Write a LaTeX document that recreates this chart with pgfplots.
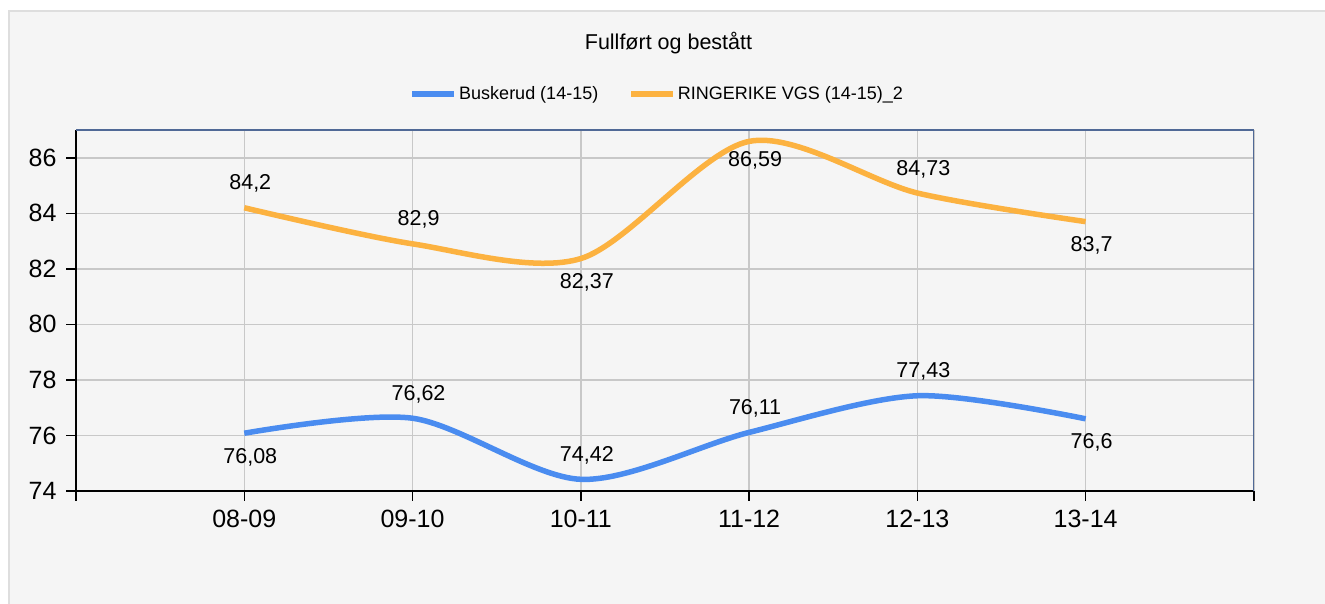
\documentclass[border=0pt]{standalone}
\usepackage{fontspec}
\setmainfont{Liberation Sans}
\usepackage{pgfplots}
\pgfplotsset{compat=1.18}
\definecolor{bluel}{RGB}{74,140,240}
\definecolor{orangel}{RGB}{252,178,64}
\definecolor{gridc}{RGB}{200,200,200}
\definecolor{framec}{RGB}{80,105,150}
\definecolor{bgc}{RGB}{245,245,245}
\definecolor{bordc}{RGB}{222,222,222}
\begin{document}
\begin{tikzpicture}[x=1pt,y=1pt]
\useasboundingbox (0,0) rectangle (1325,604);
\fill[white] (0,0) rectangle (1325,604);
\fill[bgc] (8,0) rectangle (1325,594);
\draw[bordc, line width=2.5pt] (9,0) -- (9,593) -- (1325,593);
\begin{axis}[
  at={(76pt,113pt)}, anchor=south west,
  scale only axis, width=1178pt, height=361pt,
  xmin=-1, xmax=6, ymin=74, ymax=87,
  xtick={-1,0,1,2,3,4,5,6},
  xticklabels={,08-09,09-10,10-11,11-12,12-13,13-14,},
  ytick={74,76,...,86},
  axis x line*=bottom, axis y line*=left,
  axis line style={black, line width=2pt, -},
  tick style={black, line width=1.5pt},
  tick align=outside, major tick length=10pt,
  grid=major, grid style={gridc, line width=1.5pt},
  ticklabel style={font=\fontsize{25}{29}\selectfont},
  xticklabel style={yshift=-6pt},
  yticklabel style={xshift=-6pt},
  /pgf/number format/use comma,
  /pgf/number format/fixed,
  /pgf/number format/precision=2,
  /pgf/number format/assume math mode=true,
  /pgf/number format/1000 sep={},
  title={Fullført og bestått},
  title style={at={(0.503,1.241)}, anchor=center, yshift=-6pt, font=\fontsize{21.5}{25}\selectfont},
  legend style={at={(0.4935,1.105)}, anchor=center, yshift=-2pt, draw=none, fill=none,
    legend columns=2, font=\fontsize{18}{22}\selectfont,
    /tikz/every even column/.append style={column sep=28pt},
    /tikz/every odd column/.append style={}},
  legend image code/.code={\path (0pt,0pt) -- (42pt,0pt); \draw[#1, line width=5.5pt] (0pt,0pt) -- (35pt,0pt);},
]
\addplot[bluel, line width=5.5pt, smooth, tension=0.5] coordinates {(0,76.08) (1,76.62) (2,74.42) (3,76.11) (4,77.43) (5,76.6)};
\addlegendentry{Buskerud (14-15)}
\addplot[orangel, line width=5.5pt, smooth, tension=0.5] coordinates {(0,84.2) (1,82.9) (2,82.37) (3,86.59) (4,84.73) (5,83.7)};
\addlegendentry{RINGERIKE VGS (14-15)\_2}
% labels above
\addplot[draw=none, forget plot, nodes near coords, point meta=y,
  every node near coord/.append style={anchor=center, yshift=24pt, xshift=6pt, font=\fontsize{21.5}{25}\selectfont, black}]
  coordinates {(0,84.2) (1,82.9) (4,84.73) (1,76.62) (2,74.42) (3,76.11) (4,77.43)};
% labels below
\addplot[draw=none, forget plot, nodes near coords, point meta=y,
  every node near coord/.append style={anchor=center, yshift=-24pt, xshift=6pt, font=\fontsize{21.5}{25}\selectfont, black}]
  coordinates {(2,82.37) (5,83.7) (0,76.08) (5,76.6)};
\addplot[draw=none, forget plot, nodes near coords, point meta=y,
  every node near coord/.append style={anchor=center, yshift=-19pt, xshift=6pt, font=\fontsize{21.5}{25}\selectfont, black}]
  coordinates {(3,86.59)};
\draw[framec, line width=1.5pt] (rel axis cs:0,1) -- (rel axis cs:1,1) -- (rel axis cs:1,0);
\end{axis}
\end{tikzpicture}
\end{document}
